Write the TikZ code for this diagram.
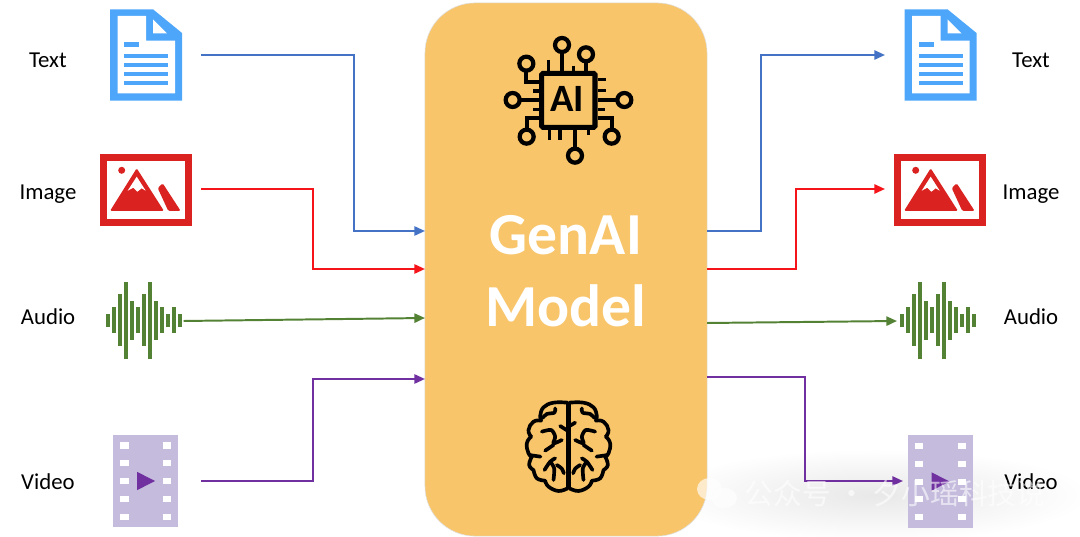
\documentclass[tikz,border=0pt]{standalone}
\usepackage{fontspec}
\setmainfont{Carlito}
\newfontfamily\cjk{Noto Sans CJK SC}
\usetikzlibrary{shapes, arrows.meta, positioning}
\definecolor{cdoc}{HTML}{4DA6FA}
\definecolor{cimg}{HTML}{DA2320}
\definecolor{cfilm}{HTML}{C4BBDD}
\definecolor{cblue}{HTML}{4472C4}
\definecolor{cred}{HTML}{F4141A}
\definecolor{cgreen}{HTML}{548235}
\definecolor{cpurple}{HTML}{7030A0}
\definecolor{cmodel}{HTML}{F8C56B}
\tikzstyle{slot} = [minimum height=1.5cm, inner sep=0pt, outer sep=0pt]
\tikzstyle{lbl} = [font=\fontsize{16.2}{18}\selectfont, text height=.3cm, text depth=.1cm, inner sep=0pt]
\tikzstyle{model} = [draw=black!12, line width=.4pt, fill=cmodel, rounded corners=1.25cm, minimum width=7.05cm, minimum height=13.325cm, inner sep=0pt, outer sep=0pt, align=center, text=white, font=\fontsize{42.4}{51}\selectfont\bfseries]
\tikzstyle{flow} = [line width=1.4pt, ->]
\tikzset{
  docicon/.pic={
    \fill[cdoc] (-36,-45.7) -- (7,-45.7) -- (36,-22) -- (36,45.7) -- (-36,45.7) -- cycle;
    \fill[white] (-28.5,-39) -- (.2,-39) -- (.2,-14.3) -- (29.2,-14.3) -- (29.2,38.3) -- (-28.5,38.3) -- cycle;
    \fill[white] (7,-35.7) -- (21,-21.7) -- (7,-21.7) -- cycle;
    \fill[cdoc] (-22,-12.5) rectangle (-7,-8.3);
    \foreach \y in {-1,8,17,26}
      \fill[cdoc] (-22,\y) rectangle (22,\y+4.4);
  },
  imgicon/.pic={
    \fill[cimg] (-46,-35.7) rectangle (46,35.7);
    \fill[white] (-39,-28.7) rectangle (39,28.7);
    \fill[cimg] (-24.3,-19.7) circle (3.5);
    \fill[cimg, rounded corners=1pt] (-36,21) -- (-9.3,-21.7) -- (18,21) -- cycle;
    \fill[cimg, rounded corners=1pt] (11.7,-2) -- (16.7,-6.7) -- (34.7,21) -- (22.3,21) -- cycle;
    \fill[white] (-9.3,-13.3) -- (-18.3,.7) -- (-12.7,-2.3) -- (-8.7,1.7) -- (-4.3,-1.7) -- (-.3,.7) -- cycle;
  },
  waveicon/.pic={
    \foreach \h [count=\i] in {6.5,13,26,38.5,19.5,13,26,38.5,19.5,13,6.5,13,6.5}
      \fill[cgreen] ({(\i-7)*6-2},-\h) rectangle ({(\i-7)*6+2},\h);
  },
  filmicon/.pic={
    \fill[cfilm] (-32.5,-46) rectangle (32.5,46);
    \foreach \y in {-35.5,-17.7,0,17.7,35.5} {
      \fill[white] (-25.6,\y-3) rectangle (-17.2,\y+3);
      \fill[white] (17.2,\y-3) rectangle (25.6,\y+3);
    }
    \fill[cpurple] (-8.8,-9.2) -- (9.2,0) -- (-8.8,9.2) -- cycle;
  },
  chipicon/.pic={
    \begin{scope}[scale=1/3, line width=3pt]
      \draw[line width=3.6pt, rounded corners=1pt] (155,145) rectangle (315,307);
      \foreach \cx/\cy in {216/60,288/88,109/116,68/225,403/225,110/335,365/335,255/392}
        \draw (\cx,\cy) circle (21);
      \draw (216,81) -- (216,137);
      \draw (288,109) -- (288,137);
      \draw (109,137) -- (109,172) -- (147,172);
      \draw (89,225) -- (147,225);
      \draw (382,225) -- (323,225);
      \draw (110,314) -- (110,280) -- (147,280);
      \draw (365,314) -- (365,280) -- (323,280);
      \draw (255,371) -- (255,315);
      \begin{scope}[line width=2.3pt]
      \foreach \ax/\ay/\bx/\by in {175/105/175/137,250/122/250/137,130/198/147/198,130/253/147/253,323/163/348/163,323/197/348/197,323/253/345/253,178/315/178/345,210/315/210/345,295/315/295/330}
        \draw (\ax,\ay) -- (\bx,\by);
      \end{scope}
      \node[font=\fontsize{27.5}{30}\selectfont\bfseries, inner sep=0pt] (ailabel) at (232,223) {AI};
    \end{scope}
  },
  brainhalf/.pic={
    \begin{scope}[scale=1/3, line width=2.6pt, line cap=round, line join=round]
      \draw plot[smooth, tension=.7] coordinates {(-3,38) (-45,38) (-75,52) (-85,78) (-82,92)};
      \draw plot[smooth, tension=.8] coordinates {(-82,92) (-105,95) (-120,120) (-112,140)};
      \draw plot[smooth, tension=.8] coordinates {(-112,140) (-125,160) (-120,190) (-110,200)};
      \draw plot[smooth, tension=.8] coordinates {(-110,200) (-118,225) (-105,240)};
      \draw plot[smooth, tension=.7] coordinates {(-105,240) (-95,265) (-70,272)};
      \draw plot[smooth, tension=.7] coordinates {(-70,272) (-60,290) (-30,303) (-3,295)};
      \draw (-3,38) -- (-3,295);
      \draw plot[smooth] coordinates {(-40,55) (-42,68) (-65,72) (-78,84)};
      \draw plot[smooth] coordinates {(-80,125) (-52,120) (-40,140) (-45,160) (-20,150)};
      \draw plot[smooth] coordinates {(-70,182) (-45,165)};
      \draw plot[smooth] coordinates {(-118,195) (-84,200)};
      \draw plot[smooth] coordinates {(-40,205) (-55,215) (-72,240)};
      \draw plot[smooth] coordinates {(-55,215) (-43,235) (-45,270)};
      \draw plot[smooth] coordinates {(-35,225) (-20,236) (-14,250)};
    \end{scope}
  },
  brainhook/.pic={
    \draw[scale=1/3, line width=2.6pt, line cap=round] (-25,108) -- (-3,122) (3,108) -- (20,98);
  }
}
\begin{document}
\begin{tikzpicture}[x=.025cm, y=-.025cm, >={Triangle[length=7.5pt, width=6.5pt]}]
    \useasboundingbox (0,0) rectangle (1080,537);
    \shade[inner color=black!9, outer color=white] (875,495) ellipse (215 and 46);
    \node[model] (model) at (566,269.5) {\rule{0pt}{1.05cm}GenAI\\Model};
    \node[slot, minimum width=2.75cm] (docl) at (146,55) {};
    \node[slot, minimum width=2.75cm] (imgl) at (146,190) {};
    \node[slot, minimum width=1.95cm] (wavl) at (144.5,321) {};
    \node[slot, minimum width=2.75cm] (filml) at (146,481) {};
    \node[slot, minimum width=2.75cm] (docr) at (940,55) {};
    \node[slot, minimum width=2.75cm] (imgr) at (940,189) {};
    \node[slot, minimum width=2.05cm] (wavr) at (938,321) {};
    \node[slot, minimum width=1.85cm] (filmr) at (940,481) {};
    \node[lbl, left of=docl, node distance=2.45cm, yshift=-.22cm] (tl) {Text};
    \node[lbl, left of=imgl, node distance=2.45cm, yshift=-.15cm] (il) {Image};
    \node[lbl, left of=wavl, node distance=2.41cm, yshift=0cm] (al) {Audio};
    \node[lbl, left of=filml, node distance=2.45cm, yshift=-.1cm] (vl) {Video};
    \node[lbl, right of=docr, node distance=2.275cm, yshift=-.22cm] (tr) {Text};
    \node[lbl, right of=imgr, node distance=2.275cm, yshift=-.15cm] (ir) {Image};
    \node[lbl, right of=wavr, node distance=2.325cm, yshift=0cm] (ar) {Audio};
    \node[lbl, right of=filmr, node distance=2.275cm, yshift=-.1cm] (vr) {Video};
    \pic at (146,55) {docicon};
    \pic at (146,190) {imgicon};
    \pic at (143.5,320.5) {waveicon};
    \pic at (145.8,481) {filmicon};
    \pic at (940.5,55) {docicon};
    \pic at (940,190) {imgicon};
    \pic at (938,320.5) {waveicon};
    \pic at (940.3,481.5) {filmicon};
    \pic at (490,25) {chipicon};
    \pic at (568.5,390) {brainhalf};
    \pic[xscale=-1] at (568.5,390) {brainhalf};
    \pic at (568.5,390) {brainhook};
    \coordinate (ina) at (model.west |- 0,231);
    \coordinate (inb) at (model.west |- 0,269);
    \coordinate (inc) at (model.west |- 0,318);
    \coordinate (ind) at (model.west |- 0,379);
    \coordinate (outa) at (model.east |- 0,231);
    \coordinate (outb) at (model.east |- 0,269);
    \coordinate (outc) at (model.east |- 0,323);
    \coordinate (outd) at (model.east |- 0,377);
    \draw[flow, cblue] (docl.east) -- ++(153,0) |- (ina);
    \draw[flow, cred] (imgl.east) ++(0,-1) -- ++(112,0) |- (inb);
    \draw[flow, cgreen] (wavl.east) -- (inc);
    \draw[flow, cpurple] (filml.east) -- ++(112,0) |- (ind);
    \draw[flow, cblue] (outa) -- ++(54,0) |- (docr.west);
    \draw[flow, cred] (outb) -- ++(89,0) |- (imgr.west);
    \draw[flow, cgreen] (outc) -- (wavr.west);
    \draw[flow, cpurple] (outd) -- ++(98,0) |- (filmr.west);
    \fill[white, opacity=.65] (709.5,489) ellipse (12.5 and 11);
    \fill[white, opacity=.65] (724.5,498) ellipse (12.5 and 10);
    \node[text=white, text opacity=.6, font=\cjk\fontsize{20.5}{22}\selectfont, inner sep=0pt] (mark) at (895,494) {公众号 · 夕小瑶科技说};
\end{tikzpicture}
\end{document}
